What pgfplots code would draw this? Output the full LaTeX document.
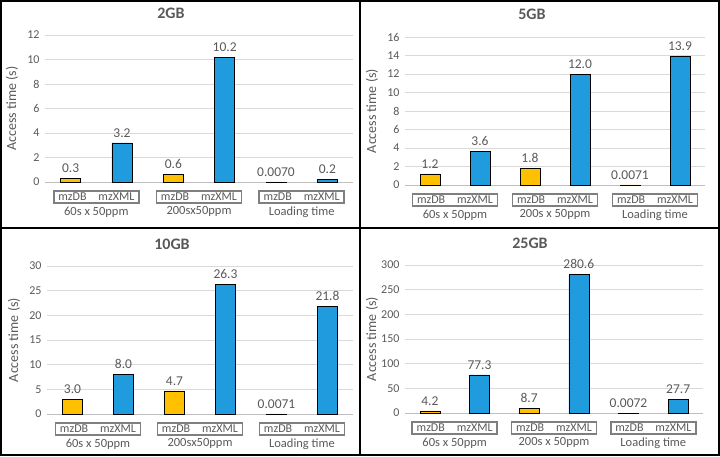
\documentclass[border=0pt]{standalone}
\usepackage{pgfplots}
\pgfplotsset{compat=1.18}
\usepackage{fontspec}
\setmainfont{Carlito}
\definecolor{txt}{HTML}{595959}
\definecolor{gridc}{HTML}{D9D9D9}
\definecolor{axc}{HTML}{BFBFBF}
\definecolor{boxc}{HTML}{7F7F7F}
\definecolor{ybar}{HTML}{FFC000}
\definecolor{bbar}{HTML}{1F9BDE}
\pgfplotsset{
  panel/.style={
    scale only axis,
    ybar, bar width=20pt, bar shift=0pt,
    xmin=-0.5, xmax=5.5, ymin=0,
    separate axis lines,
    axis x line*=bottom, axis y line*=left,
    y axis line style={draw=none},
    x axis line style={draw=axc, line width=0.8pt},
    ymajorgrids, grid style={gridc, line width=0.6pt},
    major tick length=0pt,
    tick style={draw=none},
    /pgf/number format/assume math mode=true,
    tick label style={font=\fontsize{12}{14}\selectfont, text=txt},
    yticklabel style={xshift=-2pt},
    xtick={0.5,2.5,4.5},
    xticklabels={
      \makebox[76pt]{mzDB\hfill mzXML},
      \makebox[76pt]{mzDB\hfill mzXML},
      \makebox[76pt]{mzDB\hfill mzXML}},
    xticklabel style={draw=boxc, line width=1.6pt, inner xsep=4.5pt, inner ysep=2.2pt, yshift=-8pt},
    extra x ticks={0.5,2.5,4.5},
    extra x tick style={grid=none, xticklabel style={draw=none, inner ysep=1pt, yshift=-15pt, font=\fontsize{12.5}{14}\selectfont}},
    ylabel={Access time (s)},
    every axis y label/.style={at={(axis description cs:0,0.5)}, rotate=90, anchor=center, yshift=33pt, font=\fontsize{14}{16}\selectfont, text=txt},
    nodes near coords,
    point meta=explicit symbolic,
    every node near coord/.append style={font=\fontsize{13.5}{15}\selectfont, text=txt, yshift=2pt},
    clip=false,
  },
  dbbar/.style={fill=ybar, draw=black, line width=0.6pt},
  xmlbar/.style={fill=bbar, draw=black, line width=0.6pt},
}
\begin{document}
\begin{tikzpicture}
\useasboundingbox (0pt,0pt) rectangle (720pt,456pt);
% panel 1: 2GB
\begin{axis}[panel, at={(45pt,274pt)}, anchor=south west, width=308pt, height=147pt,
  ymax=12, ytick={0,2,...,12},
  extra x tick labels={60s x 50ppm,200sx50ppm,Loading time}]
\addplot[dbbar] table[meta=l] {
x y l
0 0.3 0.3
2 0.6 0.6
4 0.007 0.0070
};
\addplot[xmlbar] table[meta=l] {
x y l
1 3.2 3.2
3 10.2 10.2
5 0.2 0.2
};
\end{axis}
% panel 2: 5GB
\begin{axis}[panel, at={(405pt,271pt)}, anchor=south west, width=300pt, height=148pt,
  ymax=16, ytick={0,2,...,16},
  extra x tick labels={60s x 50ppm,200s x 50ppm,Loading time}]
\addplot[dbbar] table[meta=l] {
x y l
0 1.2 1.2
2 1.8 1.8
4 0.0071 0.0071
};
\addplot[xmlbar] table[meta=l] {
x y l
1 3.6 3.6
3 12.0 12.0
5 13.9 13.9
};
\end{axis}
% panel 3: 10GB
\begin{axis}[panel, at={(47pt,42pt)}, anchor=south west, width=306pt, height=148pt,
  ymax=30, ytick={0,5,...,30},
  extra x tick labels={60s x 50ppm,200sx50ppm,Loading time}]
\addplot[dbbar] table[meta=l] {
x y l
0 3.0 3.0
2 4.7 4.7
4 0.0071 0.0071
};
\addplot[xmlbar] table[meta=l] {
x y l
1 8.0 8.0
3 26.3 26.3
5 21.8 21.8
};
\end{axis}
% panel 4: 25GB
\begin{axis}[panel, at={(405pt,43pt)}, anchor=south west, width=298pt, height=148pt,
  ymax=300, ytick={0,50,...,300},
  extra x tick labels={60s x 50ppm,200s x 50ppm,Loading time}]
\addplot[dbbar] table[meta=l] {
x y l
0 4.2 4.2
2 8.7 8.7
4 0.0072 0.0072
};
\addplot[xmlbar] table[meta=l] {
x y l
1 77.3 77.3
3 280.6 280.6
5 27.7 27.7
};
\end{axis}
% titles
\node[font=\bfseries\fontsize{16}{18}\selectfont, text=txt] at (171pt,443pt) {2GB};
\node[font=\bfseries\fontsize{16}{18}\selectfont, text=txt] at (532pt,442pt) {5GB};
\node[font=\bfseries\fontsize{16}{18}\selectfont, text=txt] at (172pt,212pt) {10GB};
\node[font=\bfseries\fontsize{16}{18}\selectfont, text=txt] at (530pt,213pt) {25GB};
% frames
\draw[line width=2pt] (1pt,1pt) rectangle (719pt,455pt);
\draw[line width=2.2pt] (360pt,0pt) -- (360pt,456pt);
\draw[line width=2.2pt] (0pt,228pt) -- (720pt,228pt);
\end{tikzpicture}
\end{document}
